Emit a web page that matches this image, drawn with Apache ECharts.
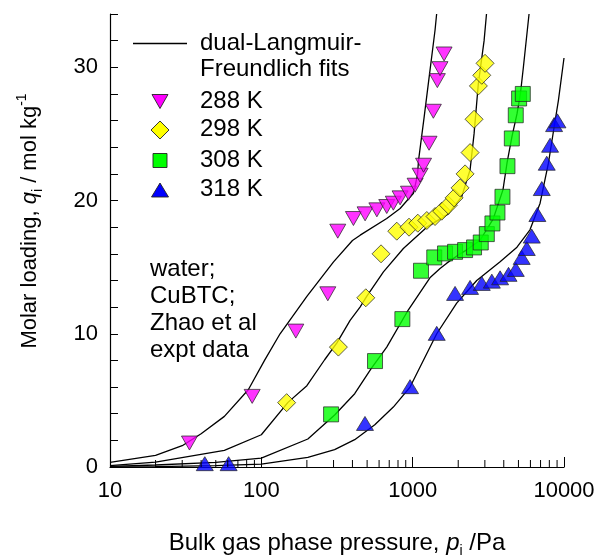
<!DOCTYPE html>
<html>
<head>
<meta charset="utf-8">
<script src="https://cdn.jsdelivr.net/npm/echarts@6/dist/echarts.min.js"></script>
<style>
  html, body { margin: 0; padding: 0; background: #fff; }
  #chart { width: 601px; height: 559px; }
</style>
</head>
<body>
<div id="chart"></div>
<script>
// Water adsorption isotherms in CuBTC: experimental points and dual-Langmuir-Freundlich fits
const FONT = "'Liberation Sans', Arial, sans-serif";

// Temperatures and marker styles
const temps = ['288 K', '298 K', '308 K', '318 K'];

// Experimental data: pressure (Pa) and loading (mol/kg)
const exp288P = [33.5, 87, 169, 275, 320, 406, 485, 580, 674, 745, 826, 938, 1038, 1120, 1180, 1283, 1370, 1456, 1516, 1613];
const exp288Q = [1.8, 5.3, 10.2, 13.0, 17.7, 18.65, 19.0, 19.3, 19.55, 19.8, 20.2, 20.55, 21.15, 21.9, 22.65, 24.3, 26.7, 29.0, 29.9, 31.0];

const exp298P = [147, 323, 490, 618, 785, 946, 1081, 1240, 1406, 1556, 1722, 1878, 2057, 2220, 2395, 2545, 2718, 2862, 3008];
const exp298Q = [4.83, 9.0, 12.7, 16.0, 17.7, 18.0, 18.3, 18.5, 18.8, 19.2, 19.65, 20.2, 20.95, 22.0, 23.6, 26.1, 28.6, 29.4, 30.3];

const exp308P = [289, 564, 855, 1135, 1389, 1637, 1906, 2220, 2545, 2818, 3090, 3366, 3633, 3921, 4231, 4521, 4801, 5051, 5343];
const exp308Q = [3.95, 7.95, 11.1, 14.73, 15.73, 16.03, 16.15, 16.28, 16.48, 16.85, 17.48, 18.28, 19.1, 20.28, 22.58, 24.66, 26.4, 27.66, 28.0];

const exp318P = [42.3, 60.8, 484, 961, 1442, 1906, 2395, 2862, 3335, 3782, 4300, 4801, 5254, 5675, 6123, 6670, 7130, 7690, 8090, 8600, 9050];
const exp318Q = [0.25, 0.25, 3.27, 6.03, 10.03, 13.03, 13.48, 13.78, 13.95, 14.2, 14.46, 14.83, 15.73, 16.4, 17.33, 18.95, 20.9, 22.8, 24.15, 25.7, 25.98];

// Fitted isotherm curves
const fit288P = [10, 20, 30, 40, 57, 82, 105, 133, 200, 300, 400, 450, 674, 826, 1012, 1076, 1093, 1189, 1283, 1406, 1440];
const fit288Q = [0.35, 0.87, 1.6, 2.5, 3.8, 5.8, 8.0, 10.0, 12.8, 15.4, 17.0, 17.4, 18.65, 19.4, 20.55, 21.9, 23.0, 26.2, 29.2, 32.8, 34.0];

const fit298P = [10, 20, 57, 100, 150, 200, 262, 315, 386, 449, 497, 641, 868, 1240, 1722, 2110, 2395, 2545, 2718, 2965, 3075];
const fit298Q = [0.1, 0.37, 1.25, 2.42, 4.85, 6.1, 8.05, 9.3, 11.0, 12.0, 12.8, 14.65, 16.4, 18.0, 19.0, 20.3, 22.3, 25.0, 28.8, 32.0, 34.0];

const fit308P = [10, 20, 50, 100, 203, 305, 414, 533, 674, 937, 1300, 1517, 1680, 2055, 2276, 2780, 3400, 3950, 4200, 4530, 4890, 5150, 5390, 5875];
const fit308Q = [0.05, 0.15, 0.35, 0.67, 2.1, 3.9, 5.5, 7.4, 9.0, 11.8, 14.2, 14.9, 15.3, 16.0, 16.3, 17.0, 18.6, 20.8, 22.8, 24.8, 26.5, 28.0, 30.0, 34.0];

const fit318P = [10, 20, 50, 100, 203, 305, 414, 562, 745, 961, 1442, 1954, 2650, 3782, 4890, 5960, 6950, 7890, 8600, 9180, 10000];
const fit318Q = [0.0, 0.03, 0.1, 0.22, 0.72, 1.3, 2.05, 3.17, 4.5, 6.0, 10.0, 12.3, 14.0, 15.4, 16.5, 17.8, 19.8, 22.8, 25.5, 27.5, 30.7];

// Axis ticks
const xMajorTicks = [10, 100, 1000, 10000];
const xMinorTicks = [20, 30, 40, 50, 60, 70, 80, 90, 200, 300, 400, 500, 600, 700, 800, 900, 2000, 3000, 4000, 5000, 6000, 7000, 8000, 9000];
const yLabels = [0, 10, 20, 30];

const zip = (a, b) => a.map((v, i) => [v, b[i]]);

const markerStyles = [
  { color: '#ff00ff', symbol: 'triangle', size: [16, 14], rotate: 180 },
  { color: '#ffff00', symbol: 'diamond', size: [18, 18], rotate: 0 },
  { color: '#00ff00', symbol: 'rect', size: [15, 15], rotate: 0 },
  { color: '#0000ff', symbol: 'triangle', size: [17, 14], rotate: 0 }
];

const expSets = [zip(exp288P, exp288Q), zip(exp298P, exp298Q), zip(exp308P, exp308Q), zip(exp318P, exp318Q)];
const fitSets = [zip(fit288P, fit288Q), zip(fit298P, fit298Q), zip(fit308P, fit308Q), zip(fit318P, fit318Q)];

const series = [];
fitSets.forEach((d, i) => {
  series.push({
    name: 'fit ' + temps[i], type: 'line', data: d, showSymbol: false, symbol: 'none',
    lineStyle: { color: '#000', width: 1.3 }, clip: true, z: 2, silent: true
  });
});
expSets.forEach((d, i) => {
  const m = markerStyles[i];
  series.push({
    name: temps[i], type: 'scatter', data: d, symbol: m.symbol, symbolSize: m.size,
    symbolRotate: m.rotate,
    itemStyle: { color: m.color, borderColor: '#222', borderWidth: 0.9 }, z: 3
  });
});
// minor ticks on the log axis
series.push({
  type: 'custom', data: xMinorTicks.map(v => [v, 0]), silent: true, z: 4,
  renderItem: function (params, api) {
    const pt = api.coord([api.value(0), 0]);
    return { type: 'line', shape: { x1: pt[0], y1: pt[1], x2: pt[0], y2: pt[1] - 7 },
      style: { stroke: '#000', lineWidth: 1 } };
  }
});

const TXT = '24px ' + FONT;
const legendRows = [
  { y: 101.5, idx: 0 }, { y: 130, idx: 1 }, { y: 160.5, idx: 2 }, { y: 190, idx: 3 }
];
const legendGraphics = [];
legendGraphics.push({ type: 'line', shape: { x1: 133, y1: 43.5, x2: 187, y2: 43.5 }, style: { stroke: '#000', lineWidth: 1.3 } });
legendGraphics.push({ type: 'text', style: { x: 200, y: 43, text: 'dual-Langmuir-', font: TXT, fill: '#000', textVerticalAlign: 'middle', verticalAlign: 'middle' } });
legendGraphics.push({ type: 'text', style: { x: 200, y: 69, text: 'Freundlich fits', font: TXT, fill: '#000', textVerticalAlign: 'middle', verticalAlign: 'middle' } });
const sym = {
  0: (cy) => ({ type: 'polygon', shape: { points: [[152, cy - 7], [168, cy - 7], [160, cy + 7]] } }),
  1: (cy) => ({ type: 'polygon', shape: { points: [[160, cy - 9], [169, cy], [160, cy + 9], [151, cy]] } }),
  2: (cy) => ({ type: 'rect', shape: { x: 153, y: cy - 7, width: 14, height: 14 } }),
  3: (cy) => ({ type: 'polygon', shape: { points: [[160, cy - 7], [168.5, cy + 7], [151.5, cy + 7]] } })
};
legendRows.forEach(r => {
  const g = sym[r.idx](r.y);
  g.style = { fill: markerStyles[r.idx].color, stroke: '#222', lineWidth: 0.9 };
  legendGraphics.push(g);
  legendGraphics.push({ type: 'text', style: { x: 200, y: r.y - 0.5, text: temps[r.idx], font: TXT, fill: '#000', textVerticalAlign: 'middle', verticalAlign: 'middle' } });
});

// annotation block
['water;', 'CuBTC;', 'Zhao et al', 'expt data'].forEach((t, i) => {
  legendGraphics.push({ type: 'text', style: { x: 150, y: 269.5 + i * 27, text: t, font: TXT, fill: '#000', textVerticalAlign: 'middle', verticalAlign: 'middle' } });
});

// axis titles with sub/superscripts
const richBase = (size) => ({
  n: { fontSize: size, fontFamily: FONT, lineHeight: 30, verticalAlign: 'middle', color: '#000' },
  it: { fontSize: size, fontFamily: FONT, fontStyle: 'italic', lineHeight: 30, verticalAlign: 'middle', color: '#000' },
  sub: { fontSize: 14, fontFamily: FONT, lineHeight: 14, verticalAlign: 'bottom', color: '#000' },
  sup: { fontSize: 14, fontFamily: FONT, lineHeight: 14, verticalAlign: 'top', color: '#000' }
});
legendGraphics.push({
  type: 'text', x: 337, y: 543,
  style: { text: '{n|Bulk gas phase pressure, }{it|p}{sub|i}{n| /Pa}', rich: richBase(24),
    textAlign: 'center', align: 'center', textVerticalAlign: 'middle', verticalAlign: 'middle' }
});
legendGraphics.push({
  type: 'text', x: 30, y: 221, rotation: Math.PI / 2,
  style: { text: '{n|Molar loading, }{it|q}{sub|i}{n| / mol kg}{sup|-1}', rich: richBase(22),
    textAlign: 'center', align: 'center', textVerticalAlign: 'middle', verticalAlign: 'middle' }
});

const chart = echarts.init(document.getElementById('chart'), null, { renderer: 'canvas' });
chart.setOption({
  animation: false,
  backgroundColor: '#fff',
  grid: { left: 110, right: 37, top: 14, bottom: 92 },
  xAxis: {
    type: 'log', logBase: 10, min: xMajorTicks[0], max: xMajorTicks[xMajorTicks.length - 1],
    axisLine: { show: true, onZero: false, lineStyle: { color: '#000', width: 1.2 } },
    axisTick: { show: true, inside: true, length: 10, lineStyle: { color: '#000', width: 1 } },
    axisLabel: { margin: 13, fontSize: 22, fontFamily: FONT, color: '#000',
      formatter: v => xMajorTicks.includes(Math.round(v)) ? String(Math.round(v)) : '' },
    splitLine: { show: false }, minorTick: { show: false }
  },
  yAxis: {
    type: 'value', min: 0, max: 34, interval: 2,
    axisLine: { show: true, lineStyle: { color: '#000', width: 1.2 } },
    axisTick: { show: true, inside: true, length: 8, lineStyle: { color: '#000', width: 1 } },
    axisLabel: { margin: 12, fontSize: 22, fontFamily: FONT, color: '#000',
      formatter: v => yLabels.includes(v) ? String(v) : '' },
    splitLine: { show: false }
  },
  graphic: legendGraphics,
  series: series
});
</script>
</body>
</html>
